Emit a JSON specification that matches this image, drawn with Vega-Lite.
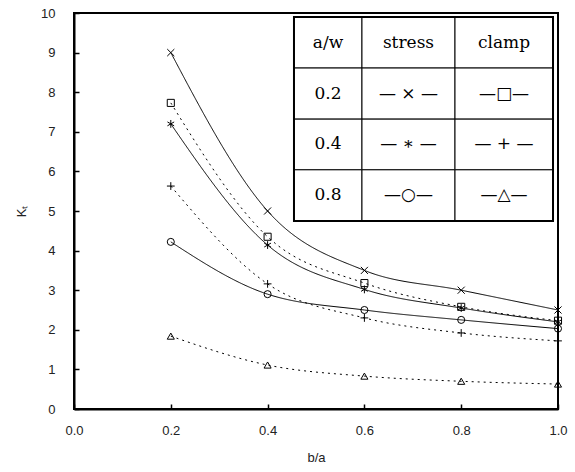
{
  "$schema": "https://vega.github.io/schema/vega-lite/v6.json",
  "width": 484,
  "height": 396,
  "autosize": {"type": "none"},
  "padding": {"left": 74, "top": 13, "right": 17, "bottom": 63},
  "background": "white",
  "config": {
    "view": {"stroke": "black", "strokeWidth": 2},
    "axis": {
      "grid": false,
      "domainColor": "black",
      "domainWidth": 2,
      "tickColor": "black",
      "tickWidth": 1.5,
      "tickSize": -5,
      "labelFont": "Liberation Sans",
      "labelFontSize": 13,
      "labelColor": "#222",
      "titleFont": "Liberation Sans",
      "titleFontSize": 13,
      "titleFontWeight": "normal",
      "titleColor": "#222"
    }
  },
  "datasets": {
    "curves": [
      {"series": "stress 0.2", "loading": "stress", "x": 0.2, "y": 9.0},
      {"series": "stress 0.2", "loading": "stress", "x": 0.4, "y": 5.0},
      {"series": "stress 0.2", "loading": "stress", "x": 0.6, "y": 3.5},
      {"series": "stress 0.2", "loading": "stress", "x": 0.8, "y": 3.0},
      {"series": "stress 0.2", "loading": "stress", "x": 1.0, "y": 2.5},
      {"series": "clamp 0.2", "loading": "clamp", "x": 0.2, "y": 7.73},
      {"series": "clamp 0.2", "loading": "clamp", "x": 0.4, "y": 4.35},
      {"series": "clamp 0.2", "loading": "clamp", "x": 0.6, "y": 3.18},
      {"series": "clamp 0.2", "loading": "clamp", "x": 0.8, "y": 2.58},
      {"series": "clamp 0.2", "loading": "clamp", "x": 1.0, "y": 2.23},
      {"series": "stress 0.4", "loading": "stress", "x": 0.2, "y": 7.2},
      {"series": "stress 0.4", "loading": "stress", "x": 0.4, "y": 4.14},
      {"series": "stress 0.4", "loading": "stress", "x": 0.6, "y": 3.02},
      {"series": "stress 0.4", "loading": "stress", "x": 0.8, "y": 2.55},
      {"series": "stress 0.4", "loading": "stress", "x": 1.0, "y": 2.2},
      {"series": "clamp 0.4", "loading": "clamp", "x": 0.2, "y": 5.63},
      {"series": "clamp 0.4", "loading": "clamp", "x": 0.4, "y": 3.16},
      {"series": "clamp 0.4", "loading": "clamp", "x": 0.6, "y": 2.3},
      {"series": "clamp 0.4", "loading": "clamp", "x": 0.8, "y": 1.92},
      {"series": "clamp 0.4", "loading": "clamp", "x": 1.0, "y": 1.72},
      {"series": "stress 0.8", "loading": "stress", "x": 0.2, "y": 4.22},
      {"series": "stress 0.8", "loading": "stress", "x": 0.4, "y": 2.9},
      {"series": "stress 0.8", "loading": "stress", "x": 0.6, "y": 2.5},
      {"series": "stress 0.8", "loading": "stress", "x": 0.8, "y": 2.25},
      {"series": "stress 0.8", "loading": "stress", "x": 1.0, "y": 2.03},
      {"series": "clamp 0.8", "loading": "clamp", "x": 0.2, "y": 1.84},
      {"series": "clamp 0.8", "loading": "clamp", "x": 0.4, "y": 1.11},
      {"series": "clamp 0.8", "loading": "clamp", "x": 0.6, "y": 0.83},
      {"series": "clamp 0.8", "loading": "clamp", "x": 0.8, "y": 0.7},
      {"series": "clamp 0.8", "loading": "clamp", "x": 1.0, "y": 0.63}
    ],
    "cells": [
      {"x": 0.4545, "x2": 0.595, "y": 9.9, "y2": 8.61},
      {"x": 0.595, "x2": 0.7872, "y": 9.9, "y2": 8.61},
      {"x": 0.7872, "x2": 0.9897, "y": 9.9, "y2": 8.61},
      {"x": 0.4545, "x2": 0.595, "y": 8.61, "y2": 7.32},
      {"x": 0.595, "x2": 0.7872, "y": 8.61, "y2": 7.32},
      {"x": 0.7872, "x2": 0.9897, "y": 8.61, "y2": 7.32},
      {"x": 0.4545, "x2": 0.595, "y": 7.32, "y2": 6.04},
      {"x": 0.595, "x2": 0.7872, "y": 7.32, "y2": 6.04},
      {"x": 0.7872, "x2": 0.9897, "y": 7.32, "y2": 6.04},
      {"x": 0.4545, "x2": 0.595, "y": 6.04, "y2": 4.75},
      {"x": 0.595, "x2": 0.7872, "y": 6.04, "y2": 4.75},
      {"x": 0.7872, "x2": 0.9897, "y": 6.04, "y2": 4.75}
    ],
    "frame": [
      {"x": 0.4545, "x2": 0.9897, "y": 9.9, "y2": 4.75}
    ],
    "labels": [
      {"x": 0.5248, "y": 9.255, "text": "a/w"},
      {"x": 0.6911, "y": 9.255, "text": "stress"},
      {"x": 0.8884, "y": 9.255, "text": "clamp"},
      {"x": 0.5248, "y": 7.965, "text": "0.2"},
      {"x": 0.5248, "y": 6.68, "text": "0.4"},
      {"x": 0.5248, "y": 5.395, "text": "0.8"},
      {"x": 0.6911, "y": 7.965, "text": "— × —"},
      {"x": 0.8884, "y": 7.965, "text": "—□—"},
      {"x": 0.6911, "y": 6.68, "text": "— ∗ —"},
      {"x": 0.8884, "y": 6.68, "text": "— + —"},
      {"x": 0.6911, "y": 5.395, "text": "—○—"},
      {"x": 0.8884, "y": 5.395, "text": "—△—"}
    ]
  },
  "encoding": {
    "x": {"field": "x", "type": "quantitative", "title": "b/a",
          "scale": {"domain": [0, 1], "nice": false, "zero": false},
          "axis": {"values": [0, 0.2, 0.4, 0.6, 0.8, 1.0], "format": ".1f", "labelPadding": 20, "titlePadding": 14, "labelFlush": false, "labelOverlap": false}},
    "y": {"field": "y", "type": "quantitative", "title": "Kₜ",
          "scale": {"domain": [0, 10], "nice": false},
          "axis": {"values": [0, 1, 2, 3, 4, 5, 6, 7, 8, 9, 10], "format": "d", "labelPadding": 24, "titlePadding": 12, "labelFlush": false, "labelOverlap": false}}
  },
  "layer": [
    {
      "data": {"name": "curves"},
      "mark": {"type": "line", "interpolate": "monotone", "color": "black", "strokeWidth": 1},
      "encoding": {
        "detail": {"field": "series"},
        "strokeDash": {"field": "loading", "type": "nominal", "legend": null,
                       "scale": {"domain": ["stress", "clamp"], "range": [[1, 0], [2, 4]]}}
      }
    },
    {
      "data": {"name": "curves"},
      "mark": {"type": "point", "filled": false, "stroke": "black", "strokeWidth": 1, "size": 50, "opacity": 1},
      "encoding": {
        "shape": {"field": "series", "type": "nominal", "legend": null,
                  "scale": {"domain": ["stress 0.2", "clamp 0.2", "stress 0.4", "clamp 0.4", "stress 0.8", "clamp 0.8"],
                            "range": ["M-1,-1L1,1M-1,1L1,-1", "square", "M0,-1.1L0,1.1M-0.95,-0.55L0.95,0.55M-0.95,0.55L0.95,-0.55", "M-1.1,0L1.1,0M0,-1.1L0,1.1", "circle", "triangle-up"]}}
      }
    },
    {
      "data": {"name": "cells"},
      "mark": {"type": "rect", "fill": "white", "stroke": "black", "strokeWidth": 1},
      "encoding": {
        "x2": {"field": "x2"},
        "y2": {"field": "y2"}
      }
    },
    {
      "data": {"name": "frame"},
      "mark": {"type": "rect", "fill": null, "fillOpacity": 0, "stroke": "black", "strokeWidth": 2},
      "encoding": {
        "x2": {"field": "x2"},
        "y2": {"field": "y2"}
      }
    },
    {
      "data": {"name": "labels"},
      "mark": {"type": "text", "font": "DejaVu Serif", "fontSize": 17, "color": "black", "align": "center", "baseline": "middle"},
      "encoding": {
        "text": {"field": "text"}
      }
    }
  ]
}
